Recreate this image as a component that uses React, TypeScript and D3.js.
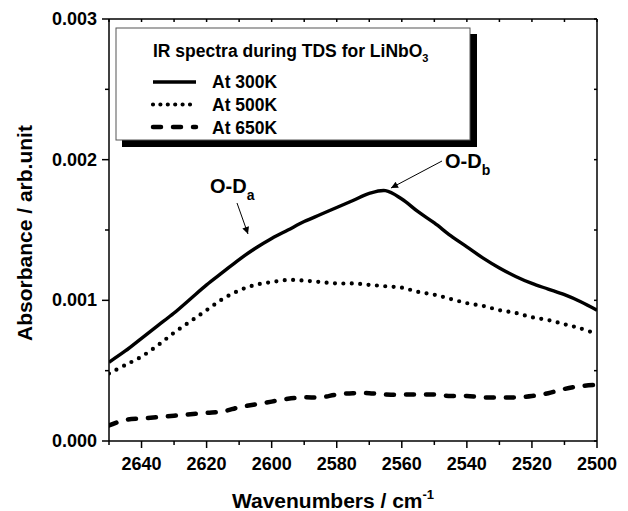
import React from "react";
import * as d3 from "d3";

const wavenumbers = [2650,2645,2640,2635,2630,2625,2620,2615,2610,2605,2600,2595,2590,2585,2580,2575,2570,2565,2560,2555,2550,2545,2540,2535,2530,2525,2520,2515,2510,2505,2500];
const at300K = [0.00056,0.00064,0.00073,0.00082,0.00091,0.00101,0.00111,0.0012,0.00129,0.00137,0.00144,0.0015,0.00156,0.00161,0.00166,0.00171,0.00176,0.00178,0.00172,0.00163,0.00155,0.00146,0.00138,0.0013,0.00123,0.00117,0.00112,0.00108,0.00104,0.00099,0.00093];
const at500K = [0.00048,0.00054,0.0006,0.00068,0.00077,0.00085,0.00093,0.00101,0.00107,0.00111,0.00113,0.001145,0.00114,0.00113,0.00112,0.00112,0.00111,0.0011,0.00109,0.00106,0.00104,0.00101,0.00098,0.00096,0.00093,0.00091,0.00088,0.00086,0.00083,0.0008,0.00076];
const at650K = [0.00011,0.00015,0.00016,0.00017,0.00018,0.00019,0.0002,0.00021,0.00024,0.00026,0.00028,0.0003,0.00031,0.00031,0.00033,0.00034,0.00034,0.00033,0.00033,0.00033,0.00033,0.00032,0.00032,0.00031,0.00031,0.00031,0.00032,0.00034,0.00037,0.00039,0.0004];
const xTickLabels = [2640,2620,2600,2580,2560,2540,2520,2500];
const xMinorTicks = [2650,2630,2610,2590,2570,2550,2530,2510];
const yTickLabels = [0, 0.001, 0.002, 0.003];
const yMinorTicks = [0.0005, 0.0015, 0.0025];
const legendLabels = ["At 300K", "At 500K", "At 650K"];

const FONT = "'Liberation Sans', Arial, sans-serif";

export default function App() {
  const x = d3.scaleLinear().domain([2650, 2500]).range([109, 597]);
  const y = d3.scaleLinear().domain([0, 0.003]).range([441, 19]);
  const line = (vals: number[]) =>
    d3.line<number>()
      .x((_, i) => x(wavenumbers[i]))
      .y((v) => y(v))
      .curve(d3.curveCatmullRom.alpha(0.5))(vals) as string;

  const styles = [
    { width: 3.4, dash: undefined as string | undefined, cap: "butt" },
    { width: 4.2, dash: "0 8.4", cap: "round" },
    { width: 4.5, dash: "8 12", cap: "round" },
  ];
  const series = [at300K, at500K, at650K];
  const [x0, x1] = x.range();
  const [yb, yt] = y.range();

  return (
    <svg width={628} height={511} style={{ position: "absolute", left: 0, top: 0, background: "#fff" }} fontFamily={FONT}>
      <defs>
        <marker id="arr" viewBox="0 0 10 10" refX="10" refY="5" markerWidth="9" markerHeight="7" markerUnits="userSpaceOnUse" orient="auto">
          <path d="M0,0 L10,5 L0,10 z" fill="#000" />
        </marker>
        <clipPath id="clip">
          <rect x={x0} y={yt} width={x1 - x0} height={yb - yt} />
        </clipPath>
      </defs>
      <rect x={0} y={0} width={628} height={511} fill="#fff" />

      <g clipPath="url(#clip)">
        {series.map((s, i) => (
          <path key={i} d={line(s)} fill="none" stroke="#000" strokeWidth={styles[i].width}
            strokeDasharray={styles[i].dash} strokeLinecap={styles[i].cap as any} strokeLinejoin="round" />
        ))}
      </g>

      <g stroke="#000" strokeWidth={1.5} fill="none">
        <line x1={x0} y1={yb} x2={x1} y2={yb} />
        <line x1={x0} y1={yt} x2={x1} y2={yt} />
        <line x1={x0} y1={yb} x2={x0} y2={yt} />
        <line x1={x1} y1={yb} x2={x1} y2={yt} />
        {[2650, ...xTickLabels].map((t) => (
          <line key={"xb" + t} x1={x(t)} x2={x(t)} y1={yb} y2={yb + (t === 2650 ? 4 : 7)} />
        ))}
        {xMinorTicks.filter((t) => t !== 2650).map((t) => (
          <line key={"xm" + t} x1={x(t)} x2={x(t)} y1={yb} y2={yb + 4} />
        ))}
        {[...xTickLabels, ...xMinorTicks].map((t) => (
          <line key={"xt" + t} x1={x(t)} x2={x(t)} y1={yt} y2={yt + 3} />
        ))}
        {yTickLabels.map((t) => (
          <line key={"yl" + t} x1={x0 - 7} x2={x0} y1={y(t)} y2={y(t)} />
        ))}
        {yMinorTicks.map((t) => (
          <line key={"ym" + t} x1={x0 - 4} x2={x0} y1={y(t)} y2={y(t)} />
        ))}
        {[...yTickLabels, ...yMinorTicks].map((t) => (
          <line key={"yr" + t} x1={x1 - 3} x2={x1} y1={y(t)} y2={y(t)} />
        ))}
      </g>

      <g fontSize={18} fontWeight="bold" fill="#000">
        {xTickLabels.map((t) => (
          <text key={"xl" + t} x={x(t)} y={470} textAnchor="middle">{t}</text>
        ))}
        {yTickLabels.map((t) => (
          <text key={"yl" + t} x={97} y={y(t)} textAnchor="end" dominantBaseline="central">{t.toFixed(3)}</text>
        ))}
      </g>

      <text x={333} y={508} textAnchor="middle" fontSize={21} fontWeight="bold">
        Wavenumbers / cm<tspan fontSize={13} dy={-9}>-1</tspan>
      </text>
      <text transform="translate(32,233) rotate(-90)" textAnchor="middle" fontSize={21} fontWeight="bold">
        Absorbance / arb.unit
      </text>

      <rect x={122} y={34} width={355} height={113} fill="#000" />
      <rect x={116} y={28} width={354} height={112} fill="#fff" stroke="#555" strokeWidth={1} />
      <text x={153} y={57} fontSize={17.5} fontWeight="bold">
        IR spectra during TDS for LiNbO<tspan fontSize={11} dy={5}>3</tspan>
      </text>
      {legendLabels.map((lab, i) => (
        <g key={lab}>
          <line x1={153} x2={196} y1={82 + i * 22.5} y2={82 + i * 22.5} stroke="#000"
            strokeWidth={styles[i].width} strokeDasharray={i === 1 ? "0 7.4" : styles[i].dash}
            strokeLinecap={styles[i].cap as any} />
          <text x={212} y={88 + i * 22.8} fontSize={17.5} fontWeight="bold">{lab}</text>
        </g>
      ))}

      <text x={210} y={193} fontSize={20} fontWeight="bold">
        O-D<tspan fontSize={14} dy={7}>a</tspan>
      </text>
      <line x1={237} y1={203} x2={248} y2={234} stroke="#000" strokeWidth={1} markerEnd="url(#arr)" />
      <text x={445} y={168} fontSize={20} fontWeight="bold">
        O-D<tspan fontSize={14} dy={7}>b</tspan>
      </text>
      <line x1={442} y1={161} x2={391} y2={188} stroke="#000" strokeWidth={1} markerEnd="url(#arr)" />
    </svg>
  );
}
